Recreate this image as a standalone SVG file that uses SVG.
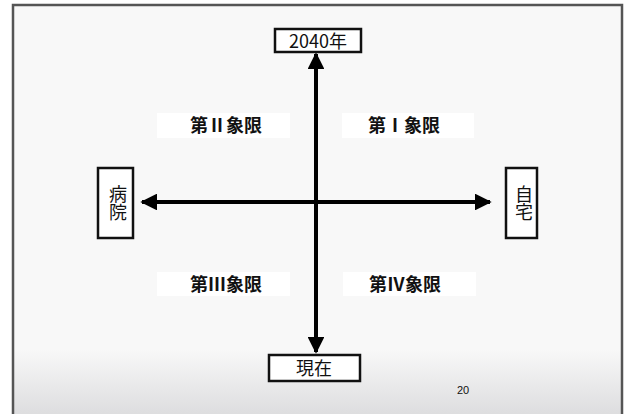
<svg xmlns="http://www.w3.org/2000/svg" width="625" height="414" viewBox="0 0 625 414">
<defs>
<linearGradient id="bg" x1="0" y1="0" x2="0" y2="1">
<stop offset="0" stop-color="#f8f8f8"/>
<stop offset="0.82" stop-color="#f8f8f8"/>
<stop offset="1" stop-color="#d9d9db"/>
</linearGradient>
<marker id="ah" viewBox="0 0 10 10" refX="9" refY="5" markerWidth="4.2" markerHeight="4.2" orient="auto" markerUnits="strokeWidth">
<path d="M0,0 L10,5 L0,10 z" fill="#000"/>
</marker>
<style>
.box{fill:#fff;stroke:#111;stroke-width:2.5}
.lbl{font-family:"Noto Sans CJK JP","Liberation Sans",sans-serif;font-size:18px;fill:#111;text-anchor:middle}
.vt{writing-mode:vertical-rl}
.q{fill:#fff;stroke:none}
.qt{font-family:"Noto Sans CJK JP","Liberation Sans",sans-serif;font-size:18px;font-weight:bold;fill:#111;text-anchor:middle}
.ax{stroke:#000;stroke-width:4;fill:none}
</style>
</defs>
<rect x="13" y="5" width="609" height="420" fill="url(#bg)" stroke="#555" stroke-width="2.5"/>
<g id="connectors">
<line class="ax" x1="316" y1="202" x2="316" y2="54" marker-end="url(#ah)"/>
<line class="ax" x1="316" y1="202" x2="316" y2="352" marker-end="url(#ah)"/>
<line class="ax" x1="316" y1="202" x2="142" y2="202" marker-end="url(#ah)"/>
<line class="ax" x1="316" y1="202" x2="490" y2="202" marker-end="url(#ah)"/>
</g>
<g id="top">
<rect class="box" x="275" y="29" width="86" height="23"/>
<text class="lbl" x="318" y="48">2040年</text>
</g>
<g id="left">
<rect class="box" x="98" y="168" width="35" height="70"/>
<text class="lbl vt" x="118" y="203">病院</text>
</g>
<g id="right">
<rect class="box" x="506" y="168" width="31" height="70"/>
<text class="lbl vt" x="524" y="203">自宅</text>
</g>
<g id="bottom">
<rect class="box" x="269" y="355" width="91" height="26"/>
<text class="lbl" x="314" y="375">現在</text>
</g>
<g id="q2">
<rect class="q" x="157" y="113" width="133" height="25"/>
<text class="qt" x="226" y="132">第Ⅱ象限</text>
</g>
<g id="q1">
<rect class="q" x="342" y="113" width="132" height="25"/>
<text class="qt" x="404" y="132">第Ⅰ象限</text>
</g>
<g id="q3">
<rect class="q" x="157" y="272" width="133" height="24"/>
<text class="qt" x="226" y="291">第Ⅲ象限</text>
</g>
<g id="q4">
<rect class="q" x="343" y="272" width="133" height="24"/>
<text class="qt" x="405" y="291">第Ⅳ象限</text>
</g>
<text x="463" y="394" font-family="Liberation Sans, sans-serif" font-size="11" fill="#111" text-anchor="middle">20</text>
</svg>
